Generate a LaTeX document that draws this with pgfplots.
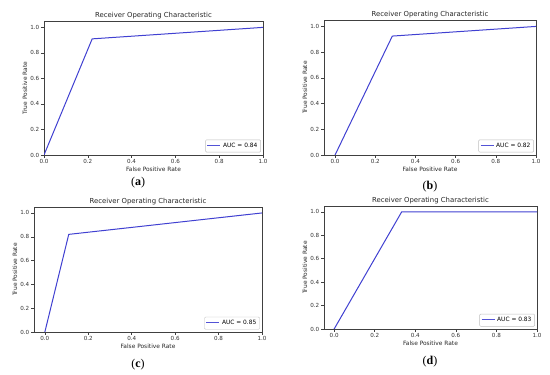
\documentclass[border=0pt]{standalone}
\usepackage{pgfplots}
\pgfplotsset{compat=1.18}
\usepackage{fontspec}
\newfontfamily\dv{DejaVu Sans}
\newfontfamily\lbl{Liberation Serif}
\definecolor{rocblue}{rgb}{0.25,0.25,0.82}
\pgfplotsset{
  roc/.style={
    scale only axis,
    ymin=0, ymax=1.05, xmax=1,
    xtick={0,0.2,0.4,0.6,0.8,1.0},
    ytick={0,0.2,0.4,0.6,0.8,1.0},
    tick align=outside, tick pos=left,
    major tick length=3pt,
    every tick/.style={black!75, line width=0.5pt},
    axis line style={black!75, line width=0.6pt},
    /pgf/number format/assume math mode=true,
    /pgf/number format/fixed, /pgf/number format/fixed zerofill, /pgf/number format/precision=1,
    ticklabel style={font=\dv\fontsize{5.6}{6}\selectfont, text=black!80},
    xticklabel style={inner sep=1.5pt},
    yticklabel style={inner sep=1.5pt},
    every axis title shift=0pt,
    title style={font=\dv\fontsize{6.9}{8}\selectfont, text=black!85, at={(0.5,1)}, anchor=south, yshift=0pt, inner sep=1.5pt},
    title={Receiver Operating Characteristic},
    xlabel={False Positive Rate}, ylabel={True Positive Rate},
    label style={font=\dv\fontsize{5.9}{7}\selectfont, text=black!85},
    xlabel style={inner sep=1pt},
    ylabel style={inner sep=1.5pt},
    legend style={at={(0.99,0.02)}, anchor=south east, font=\dv\fontsize{5.9}{7}\selectfont, draw=black!25, rounded corners=1pt, inner sep=1.2pt, row sep=0pt},
    legend cell align=left,
    legend image code/.code={\draw[rocblue!90!white, line width=1.3pt] (0pt,0.4pt) -- (13pt,0.4pt);},
  },
  rocline/.style={draw=rocblue, line width=1pt, mark=none},
}
\begin{document}
\begin{tikzpicture}
\useasboundingbox (0pt,0pt) rectangle (550pt,375pt);
% (a)
\begin{axis}[roc, at={(44pt,220pt)}, anchor=south west, width=219pt, height=134pt, xmin=0]
\addplot[rocline] coordinates {(0,0) (0.22,0.91) (1,1)};
\addlegendentry{AUC = 0.84}
\end{axis}
% (b)
\begin{axis}[roc, at={(324pt,220pt)}, anchor=south west, width=212pt, height=135pt, xmin=-0.055]
\addplot[rocline] coordinates {(0,0) (0.285,0.925) (1,1)};
\addlegendentry{AUC = 0.82}
\end{axis}
% (c)
\begin{axis}[roc, at={(34pt,43pt)}, anchor=south west, width=228pt, height=125pt, xmin=-0.05]
\addplot[rocline] coordinates {(0,0) (0.11,0.82) (1,1)};
\addlegendentry{AUC = 0.85}
\end{axis}
% (d)
\begin{axis}[roc, at={(324pt,46pt)}, anchor=south west, width=213pt, height=123pt, xmin=-0.05]
\addplot[rocline] coordinates {(0,0) (0.333,1) (1,1)};
\addlegendentry{AUC = 0.83}
\end{axis}
\node[font=\lbl\fontsize{12}{14}\selectfont] at (138pt,192pt) {(\textbf{a})};
\node[font=\lbl\fontsize{12}{14}\selectfont] at (430pt,188pt) {(\textbf{b})};
\node[font=\lbl\fontsize{12}{14}\selectfont] at (138pt,10pt) {(\textbf{c})};
\node[font=\lbl\fontsize{12}{14}\selectfont] at (430pt,13pt) {(\textbf{d})};
\end{tikzpicture}
\end{document}
